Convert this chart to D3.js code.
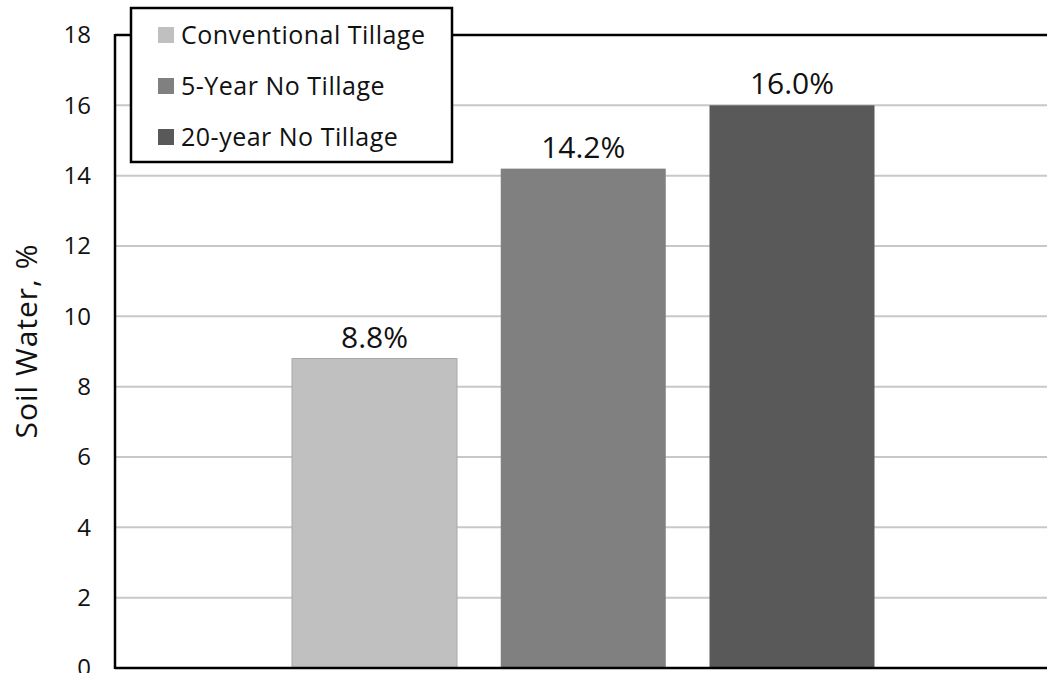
<!DOCTYPE html>
<html><head><meta charset="utf-8">
<script src="https://cdn.jsdelivr.net/npm/d3@7"></script>
<style>body{margin:0;background:#fff}svg{display:block}text{font-family:"Open Sans",sans-serif}</style>
</head><body><svg id="c" width="1047" height="673"></svg>
<script>
const series = ["Conventional Tillage", "5-Year No Tillage", "20-year No Tillage"];
const values = [8.8, 14.2, 16.0];
const labels = ["8.8%", "14.2%", "16.0%"];
const colors = ["#c0c0c0", "#808080", "#595959"];
const yTicks = [0, 2, 4, 6, 8, 10, 12, 14, 16, 18];

const svg = d3.select("#c");
const m = {l: 115};
const W = 1047;
const y = d3.scaleLinear().domain([0, 18]).range([668, 35]);
const bw = 165;
const xc = d3.scalePoint().domain(series).range([374.5, 792]);
// grid
svg.append("g").selectAll("line").data(yTicks.filter(d => d > 0 && d < 18)).join("line")
  .attr("x1", m.l).attr("x2", W).attr("y1", d => y(d)).attr("y2", d => y(d))
  .attr("stroke", "#c8c8c8").attr("stroke-width", 2);
// bars
svg.append("g").selectAll("rect").data(values).join("rect")
  .attr("x", (d, i) => xc(series[i]) - bw / 2).attr("width", bw)
  .attr("y", d => y(d)).attr("height", d => y(0) - y(d))
  .attr("fill", (d, i) => colors[i])
  .attr("stroke", (d, i) => i === 0 ? "#a8a8a8" : "none").attr("stroke-width", 1);
// value labels
svg.append("g").selectAll("text").data(values).join("text")
  .attr("x", (d, i) => xc(series[i])).attr("y", d => y(d) - 11)
  .attr("text-anchor", "middle").attr("font-size", 30).attr("fill", "#111")
  .text((d, i) => labels[i]);
// axes
const ya = d3.axisLeft(y).tickValues(yTicks).tickSize(0).tickPadding(24);
const g = svg.append("g").attr("transform", `translate(${m.l},0)`).call(ya);
g.select(".domain").remove();
g.selectAll("text").attr("font-size", 24).attr("fill", "#111").attr("font-family", "Open Sans");
svg.append("line").attr("x1", m.l).attr("x2", m.l).attr("y1", 34).attr("y2", 669).attr("stroke", "#000").attr("stroke-width", 2.5);
svg.append("line").attr("x1", m.l).attr("x2", W).attr("y1", 668).attr("y2", 668).attr("stroke", "#000").attr("stroke-width", 2.5);
svg.append("line").attr("x1", m.l).attr("x2", W).attr("y1", 35).attr("y2", 35).attr("stroke", "#000").attr("stroke-width", 2.5);
// y label
svg.append("text").attr("transform", "translate(37,341) rotate(-90)").attr("text-anchor", "middle")
  .attr("font-size", 30).attr("letter-spacing", 1).attr("fill", "#111").text("Soil Water, %");
// legend
const lg = svg.append("g");
lg.append("rect").attr("x", 131).attr("y", 8).attr("width", 321).attr("height", 154)
  .attr("fill", "#fff").attr("stroke", "#000").attr("stroke-width", 2.5);
const rowY = d3.scalePoint().domain(series).range([35, 137]);
lg.selectAll("rect.sw").data(series).join("rect").attr("class", "sw")
  .attr("x", 158).attr("y", d => rowY(d) - 8).attr("width", 16).attr("height", 16)
  .attr("fill", (d, i) => colors[i]);
lg.selectAll("text").data(series).join("text")
  .attr("x", 181).attr("y", d => rowY(d)).attr("dy", "0.35em")
  .attr("font-size", 25).attr("letter-spacing", 0.5).attr("fill", "#111").text(d => d);
</script></body></html>
